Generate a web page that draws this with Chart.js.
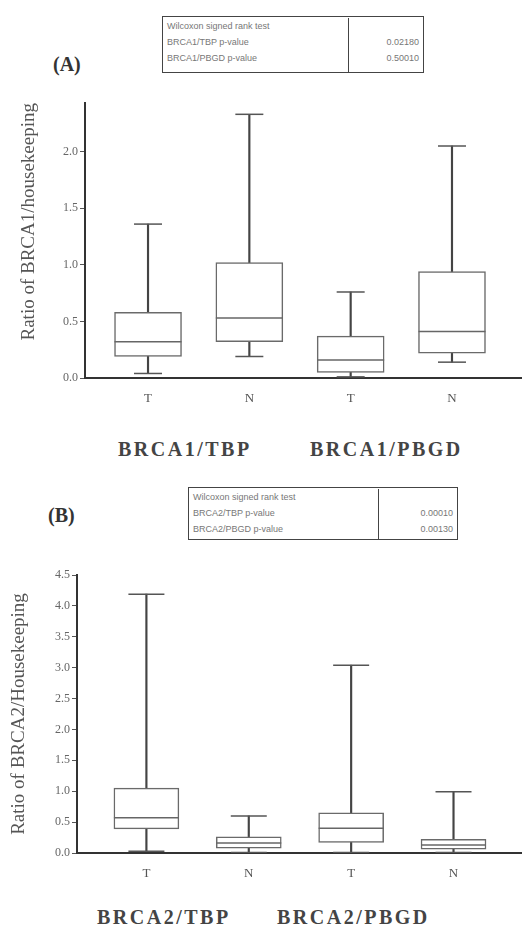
<!DOCTYPE html>
<html>
<head>
<meta charset="utf-8">
<script src="https://cdn.jsdelivr.net/npm/chart.js@4"></script>
<style>
  body { margin: 0; background: #fff; }
  #page { position: relative; width: 522px; height: 930px; overflow: hidden; background: #fff; }
  canvas { position: absolute; left: 0; }
  .panel { position: absolute; font: bold 20px "Liberation Serif", serif; color: #333; }
  .group { position: absolute; font: bold 20px "Liberation Serif", serif; color: #444; letter-spacing: 2.5px; white-space: nowrap; }
  .tbl { position: absolute; border: 1.5px solid #444; font: 9px "Liberation Sans", sans-serif; color: #777; line-height: 16px; box-sizing: border-box; }
  .tbl .l { position: absolute; left: 4px; top: 1px; }
  .tbl .r { position: absolute; top: 1px; bottom: 0; border-left: 1.5px solid #444; text-align: right; padding-right: 4px; box-sizing: border-box; }
</style>
</head>
<body>
<div id="page">
  <div class="panel" style="left:53px; top:53px;">(A)</div>
  <div class="tbl" style="left:162px; top:16px; width:262px; height:57px;">
    <div class="l">Wilcoxon signed rank test<br>BRCA1/TBP p-value<br>BRCA1/PBGD p-value</div>
    <div class="r" style="left:185px; right:0;"><br>0.02180<br>0.50010</div>
  </div>
  <canvas id="chartA" width="522" height="330" style="top:90px;"></canvas>
  <div class="group" style="left:118px; top:438px;">BRCA1/TBP</div>
  <div class="group" style="left:310px; top:438px;">BRCA1/PBGD</div>

  <div class="panel" style="left:48px; top:504px;">(B)</div>
  <div class="tbl" style="left:188px; top:487px; width:270px; height:53px;">
    <div class="l">Wilcoxon signed rank test<br>BRCA2/TBP p-value<br>BRCA2/PBGD p-value</div>
    <div class="r" style="left:189px; right:0;"><br>0.00010<br>0.00130</div>
  </div>
  <canvas id="chartB" width="522" height="340" style="top:560px;"></canvas>
  <div class="group" style="left:97px; top:906px;">BRCA2/TBP</div>
  <div class="group" style="left:277px; top:906px;">BRCA2/PBGD</div>
</div>
<script>
// categorias (tumor / normal) para cada razão
const categorias = ["T", "N", "T", "N"];

// (A) BRCA1 / housekeeping
const brca1Min = [0.04, 0.19, 0.01, 0.14];
const brca1Q1 = [0.19, 0.32, 0.05, 0.22];
const brca1Mediana = [0.32, 0.53, 0.16, 0.41];
const brca1Q3 = [0.58, 1.02, 0.37, 0.94];
const brca1Max = [1.36, 2.33, 0.76, 2.05];
const ticksA = [0, 0.5, 1.0, 1.5, 2.0];

// (B) BRCA2 / housekeeping
const brca2Min = [0.03, 0.01, 0.01, 0.01];
const brca2Q1 = [0.39, 0.08, 0.17, 0.06];
const brca2Mediana = [0.57, 0.16, 0.40, 0.13];
const brca2Q3 = [1.05, 0.26, 0.65, 0.22];
const brca2Max = [4.19, 0.60, 3.04, 0.99];
const ticksB = [0, 0.5, 1.0, 1.5, 2.0, 2.5, 3.0, 3.5, 4.0, 4.5];

const serif = "'Liberation Serif', serif";

function montaBoxplot(canvasId, cfg) {
  const pts = (vals) => vals.map((v, i) => ({ x: i, y: v }));
  const faixa = (a, b) => a.map((v, i) => ({ x: i, y: [v, b[i]] }));

  new Chart(document.getElementById(canvasId), {
    type: "bar",
    data: {
      datasets: [
        {
          // caixas (Q1..Q3)
          label: "caixa",
          data: faixa(cfg.q1, cfg.q3),
          backgroundColor: "#ffffff",
          borderColor: "#6a6a6a",
          borderWidth: 1.5,
          borderSkipped: false,
          barThickness: cfg.boxWidth,
          grouped: false,
          order: 1,
        },
        {
          // bigodes (min..max)
          label: "bigode",
          data: faixa(cfg.min, cfg.max),
          backgroundColor: "#444444",
          borderWidth: 0,
          barThickness: 1.5,
          grouped: false,
          order: 2,
        },
        {
          label: "mediana",
          type: "line",
          data: pts(cfg.med),
          showLine: false,
          pointStyle: "line",
          pointRadius: cfg.boxWidth / 2,
          borderColor: "#666666",
          borderWidth: 1.5,
          order: 0,
        },
        {
          label: "max",
          type: "line",
          data: pts(cfg.max),
          showLine: false,
          pointStyle: "line",
          pointRadius: cfg.cap,
          borderColor: "#555555",
          borderWidth: 1.5,
          order: 0,
        },
        {
          label: "min",
          type: "line",
          data: pts(cfg.min),
          showLine: false,
          pointStyle: "line",
          pointRadius: cfg.cap,
          borderColor: "#555555",
          borderWidth: 1.5,
          order: 0,
        },
      ],
    },
    options: {
      responsive: false,
      animation: false,
      layout: { autoPadding: false, padding: { top: cfg.top, right: 0, left: 0, bottom: 0 } },
      plugins: { legend: { display: false }, tooltip: { enabled: false } },
      scales: {
        x: {
          type: "linear",
          offset: false,
          min: cfg.xmin,
          max: cfg.xmax,
          afterBuildTicks: (s) => { s.ticks = categorias.map((c, i) => ({ value: i })); },
          afterFit: (s) => { s.height = cfg.xHeight; },
          ticks: {
            callback: (v) => categorias[v] ?? "",
            color: "#555",
            font: { family: serif, size: 13 },
            padding: 13,
            maxRotation: 0,
          },
          grid: { display: false, drawTicks: false, offset: false },
          border: { display: true, color: "#333", width: 2 },
        },
        y: {
          min: 0,
          max: cfg.ymax,
          afterBuildTicks: (s) => { s.ticks = cfg.ticks.map((v) => ({ value: v })); },
          afterFit: (s) => { s.width = cfg.axisX; },
          ticks: {
            callback: (v) => v.toFixed(1),
            color: "#666",
            font: { family: serif, size: 12 },
            padding: 2,
          },
          grid: { display: true, drawOnChartArea: false, drawTicks: true, tickLength: 5, color: "#555" },
          border: { display: true, color: "#333", width: 2 },
          title: {
            display: true,
            text: cfg.title,
            align: cfg.titleAlign,
            color: "#555",
            font: { family: serif, size: 19 },
            padding: { top: cfg.titlePad, bottom: 0 },
          },
        },
      },
    },
  });
}

montaBoxplot("chartA", {
  min: brca1Min, q1: brca1Q1, med: brca1Mediana, q3: brca1Q3, max: brca1Max,
  ticks: ticksA, ymax: 2.43, title: "Ratio of BRCA1/housekeeping", titleAlign: "end",
  xmin: -0.622, xmax: 3.691, axisX: 85, top: 13, xHeight: 42, titlePad: 18,
  boxWidth: 67, cap: 14,
});

montaBoxplot("chartB", {
  min: brca2Min, q1: brca2Q1, med: brca2Mediana, q3: brca2Q3, max: brca2Max,
  ticks: ticksB, ymax: 4.5, title: "Ratio of BRCA2/Housekeeping", titleAlign: "center",
  xmin: -0.678, xmax: 3.669, axisX: 77, top: 15, xHeight: 47, titlePad: 8,
  boxWidth: 65, cap: 18,
});
</script>
</body>
</html>
